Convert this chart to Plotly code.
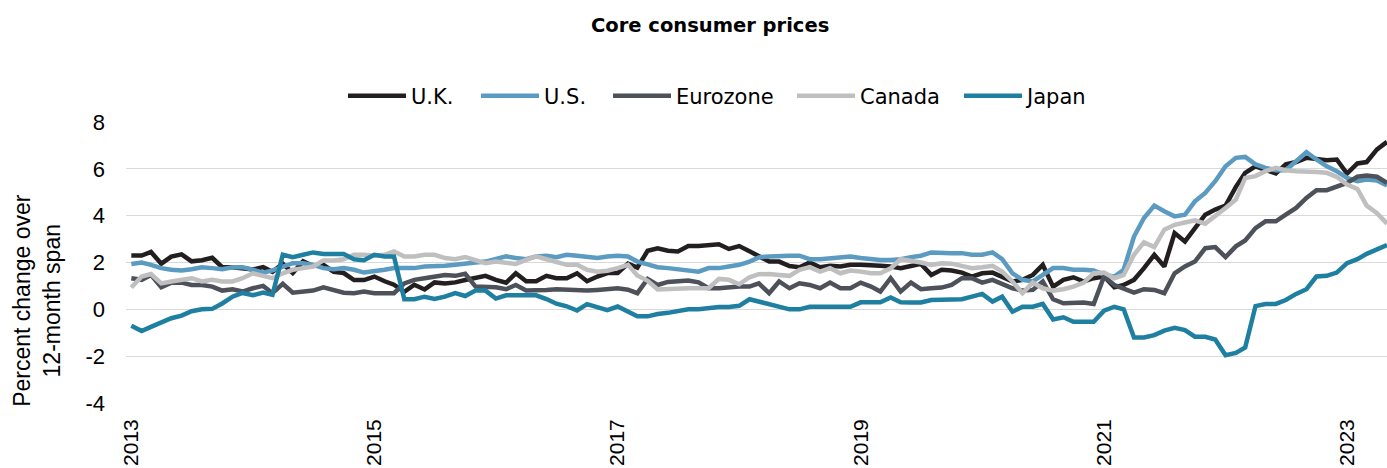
import plotly.graph_objects as go
import pandas as pd

# Monthly observations, Jan 2013 .. May 2023
months = pd.date_range("2013-01-01", periods=125, freq="MS")

uk = [2.3, 2.3, 2.45, 1.95, 2.25, 2.35, 2.05, 2.1, 2.2, 1.8, 1.8, 1.75,
      1.7, 1.8, 1.6, 1.95, 1.55, 2.05, 1.85, 1.9, 1.6, 1.55, 1.25, 1.25,
      1.4, 1.2, 1.05, 0.75, 1.05, 0.85, 1.15, 1.1, 1.15, 1.25, 1.33, 1.43,
      1.26, 1.14, 1.54, 1.2, 1.2, 1.43, 1.33, 1.33, 1.54, 1.2, 1.4, 1.55,
      1.55, 1.95, 1.78, 2.5, 2.61, 2.5, 2.47, 2.7, 2.7, 2.72, 2.78, 2.58,
      2.7, 2.48, 2.26, 2.04, 2.04, 1.85, 1.8, 2.0, 1.8, 1.86, 1.83, 1.9,
      1.9, 1.9, 1.86, 1.83, 1.76, 1.85, 1.94, 1.47, 1.69, 1.66, 1.57, 1.4,
      1.54, 1.57, 1.4, 1.19, 1.26, 1.47, 1.9, 0.97, 1.26, 1.37, 1.19, 1.33,
      1.4, 0.94, 1.04, 1.26, 1.76, 2.33, 1.83, 3.26, 2.9, 3.47, 4.04, 4.26,
      4.43, 5.23, 5.83, 6.11, 5.97, 5.8, 6.19, 6.29, 6.47, 6.4, 6.37, 6.4,
      5.8, 6.23, 6.29, 6.83, 7.15]

us = [1.94, 2.0, 1.9, 1.76, 1.69, 1.66, 1.71, 1.8, 1.76, 1.71, 1.8, 1.8,
      1.69, 1.57, 1.66, 1.83, 1.97, 1.97, 1.9, 1.76, 1.71, 1.76, 1.69, 1.57,
      1.61, 1.69, 1.76, 1.76, 1.76, 1.83, 1.83, 1.86, 1.9, 1.97, 2.0, 2.04,
      2.14, 2.26, 2.19, 2.14, 2.26, 2.29, 2.23, 2.33, 2.29, 2.26, 2.19, 2.26,
      2.29, 2.26, 2.04, 1.92, 1.8, 1.76, 1.71, 1.69, 1.61, 1.76, 1.76, 1.83,
      1.9, 2.04, 2.22, 2.26, 2.29, 2.29, 2.29, 2.14, 2.14, 2.19, 2.2, 2.26,
      2.19, 2.14, 2.11, 2.11, 2.14, 2.23, 2.29, 2.43, 2.4, 2.4, 2.4, 2.33,
      2.33, 2.43, 2.14, 1.54, 1.26, 1.19, 1.47, 1.76, 1.76, 1.69, 1.69, 1.66,
      1.47, 1.4, 1.69, 3.11, 3.9, 4.43, 4.19, 3.97, 4.04, 4.61, 4.97, 5.47,
      6.11, 6.47, 6.51, 6.19, 6.04, 5.94, 5.94, 6.33, 6.71, 6.4, 6.11, 5.9,
      5.61, 5.47, 5.54, 5.5, 5.29]

eurozone = [1.33, 1.26, 1.47, 0.94, 1.14, 1.14, 1.04, 1.04, 0.97, 0.8, 0.86, 0.76,
            0.9, 1.0, 0.69, 1.09, 0.71, 0.76, 0.8, 0.94, 0.8, 0.71, 0.69, 0.76,
            0.69, 0.71, 0.69, 1.11, 1.26, 1.33, 1.4, 1.47, 1.43, 1.52, 0.97, 0.97,
            0.94, 0.86, 1.04, 0.8, 0.8, 0.83, 0.86, 0.83, 0.8, 0.8, 0.83, 0.86,
            0.9, 0.84, 0.69, 1.3, 1.04, 1.17, 1.22, 1.23, 1.15, 0.9, 0.9, 0.94,
            0.97, 0.97, 1.11, 0.69, 1.19, 0.9, 1.11, 1.04, 0.9, 1.14, 0.9, 0.9,
            1.14, 0.97, 0.76, 1.33, 0.76, 1.14, 0.86, 0.9, 0.93, 1.04, 1.33, 1.33,
            1.14, 1.26, 1.09, 0.9, 0.8, 0.83, 1.19, 0.43, 0.26, 0.26, 0.29, 0.23,
            1.4, 1.04, 0.9, 0.71, 0.86, 0.83, 0.69, 1.54, 1.83, 2.04, 2.61, 2.66,
            2.23, 2.69, 2.94, 3.47, 3.76, 3.76, 4.04, 4.33, 4.76, 5.09, 5.09, 5.26,
            5.4, 5.66, 5.71, 5.66, 5.4]

canada = [0.93, 1.4, 1.51, 1.11, 1.19, 1.26, 1.33, 1.19, 1.26, 1.19, 1.19, 1.33,
          1.54, 1.43, 1.33, 1.54, 1.69, 1.76, 1.83, 2.09, 2.09, 2.14, 2.33, 2.33,
          2.29, 2.33, 2.47, 2.26, 2.26, 2.33, 2.33, 2.19, 2.14, 2.23, 2.09, 1.97,
          2.04, 1.97, 1.94, 2.11, 2.26, 2.14, 2.0, 1.9, 1.9, 1.69, 1.61, 1.65,
          1.76, 1.9, 1.45, 1.22, 0.85, 0.88, 0.9, 0.9, 0.9, 0.9, 1.3, 1.26,
          1.07, 1.37, 1.5, 1.51, 1.47, 1.43, 1.69, 1.8, 1.61, 1.76, 1.54, 1.66,
          1.61, 1.54, 1.54, 1.75, 2.14, 2.09, 2.0, 1.9, 1.97, 1.95, 1.86, 1.76,
          1.8, 1.86, 1.61, 1.19, 0.69, 1.14, 0.9, 0.8, 0.86, 0.97, 1.14, 1.54,
          1.57, 1.33, 1.47, 2.33, 2.86, 2.66, 3.4, 3.61, 3.71, 3.8, 3.66, 3.97,
          4.33, 4.69, 5.61, 5.69, 5.9, 6.04, 5.94, 5.9, 5.9, 5.86, 5.83, 5.66,
          5.33, 5.14, 4.43, 4.11, 3.66]

japan = [-0.7, -0.93, -0.75, -0.55, -0.38, -0.27, -0.08, 0.0, 0.02, 0.25, 0.54, 0.7,
         0.6, 0.72, 0.62, 2.33, 2.23, 2.33, 2.43, 2.36, 2.36, 2.36, 2.14, 2.1,
         2.33, 2.26, 2.26, 0.43, 0.43, 0.54, 0.44, 0.54, 0.69, 0.57, 0.8, 0.8,
         0.46, 0.6, 0.6, 0.6, 0.6, 0.44, 0.24, 0.13, -0.05, 0.22, 0.11, -0.03,
         0.12, -0.1, -0.3, -0.3, -0.2, -0.15, -0.07, 0.0, 0.0, 0.05, 0.1, 0.1,
         0.15, 0.43, 0.33, 0.19, 0.11, 0.0, 0.0, 0.11, 0.11, 0.11, 0.11, 0.11,
         0.3, 0.3, 0.3, 0.51, 0.3, 0.29, 0.29, 0.4, 0.4, 0.4, 0.43, 0.54,
         0.66, 0.33, 0.54, -0.1, 0.11, 0.11, 0.23, -0.43, -0.34, -0.53, -0.53, -0.53,
         -0.06, 0.11, 0.0, -1.2, -1.2, -1.1, -0.91, -0.79, -0.89, -1.17, -1.17, -1.29,
         -1.96, -1.86, -1.63, 0.14, 0.23, 0.23, 0.4, 0.66, 0.86, 1.4, 1.43, 1.57,
         1.97, 2.14, 2.37, 2.57, 2.75]

series_names = ["U.K.", "U.S.", "Eurozone", "Canada", "Japan"]
series_values = [uk, us, eurozone, canada, japan]
series_colors = ["#231f20", "#5b9bc1", "#4d515a", "#bfbfbf", "#1e7fa1"]

x_tick_vals = ["2013-01-01", "2015-01-01", "2017-01-01", "2019-01-01", "2021-01-01", "2023-01-01"]
x_tick_text = ["2013", "2015", "2017", "2019", "2021", "2023"]
y_tick_vals = [-4, -2, 0, 2, 4, 6, 8]
y_tick_text = ["-4", "-2", "0", "2", "4", "6", "8"]

W, H = 1387, 468
# left pixel position of each legend entry (one legend box per series)
legend_ids = ["legend", "legend2", "legend3", "legend4", "legend5"]
legend_left_px = [343, 476, 608, 792, 959]

fig = go.Figure()
for name, vals, color, lid in zip(series_names, series_values, series_colors, legend_ids):
    fig.add_trace(go.Scatter(x=months, y=vals, name=name, mode="lines", legend=lid,
                             line=dict(color=color, width=4.5)))

tick_font = dict(family="Liberation Sans, Arial, sans-serif", size=22, color="#000000")

legend_layout = {}
for lid, px in zip(legend_ids, legend_left_px):
    legend_layout[lid] = dict(orientation="h", xref="container", x=px / W, xanchor="left",
                              yref="container", y=1 - 96 / H, yanchor="middle",
                              font=dict(family="DejaVu Sans, sans-serif", size=21, color="#000000"),
                              itemwidth=58, bgcolor="rgba(0,0,0,0)")

fig.update_layout(
    width=W, height=H,
    margin=dict(l=126, r=0, t=122, b=65),
    paper_bgcolor="white", plot_bgcolor="white",
    title=dict(text="<b>Core consumer prices</b>", x=0.512, xref="container", xanchor="center",
               y=1 - 25 / H, yref="container", yanchor="middle",
               font=dict(family="DejaVu Sans, Verdana, sans-serif", size=19.5, color="#000000")),
    showlegend=True,
    **legend_layout,
)
fig.update_xaxes(type="date", range=["2012-12-16", "2023-05-01"], automargin=False,
                 tickmode="array", tickvals=x_tick_vals, ticktext=x_tick_text,
                 tickangle=-90, showgrid=False, zeroline=False, showline=False,
                 ticks="", tickfont=dict(family="Liberation Sans, Arial, sans-serif", size=21, color="#000000"),
                 ticklabelstandoff=11)
fig.update_yaxes(range=[-4, 8], automargin=False, tickmode="array", tickvals=y_tick_vals,
                 ticktext=y_tick_text,
                 showgrid=True, gridcolor="#d9d9d9", gridwidth=1.3, zeroline=False,
                 showline=False, ticks="", tickfont=tick_font, ticklabelstandoff=20)
fig.add_annotation(text="Percent change over<br>12-month span", textangle=-90,
                   xref="paper", yref="paper", x=-0.0706, y=0.367,
                   xanchor="center", yanchor="middle", showarrow=False,
                   font=dict(family="Liberation Sans, Arial, sans-serif", size=23, color="#000000"))

fig.write_html("out.html", config={"displayModeBar": False},
               post_script="document.body.style.margin='0px';")
